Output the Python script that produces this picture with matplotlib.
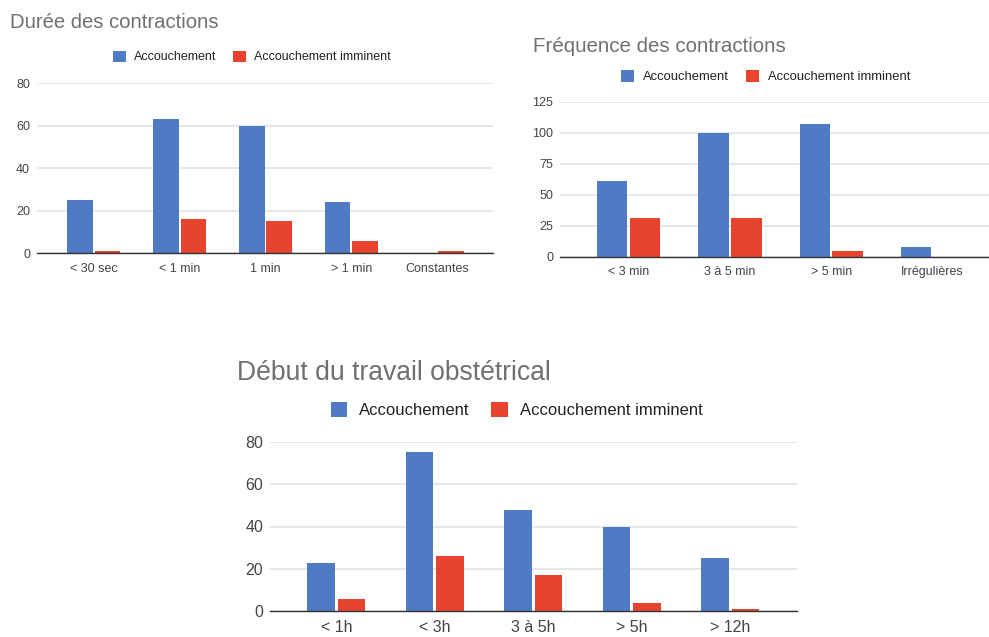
import matplotlib
matplotlib.use("Agg")
import matplotlib.pyplot as plt
from matplotlib.patches import Patch
import numpy as np

plt.rcParams['font.family'] = ['Liberation Sans', 'DejaVu Sans']

# ---- data ----
series_names = ["Accouchement", "Accouchement imminent"]

duree_cats = ["< 30 sec", "< 1 min", "1 min", "> 1 min", "Constantes"]
duree_acc = [25, 63, 60, 24, 0]
duree_imm = [1, 16, 15, 6, 1]
duree_ticks = [0, 20, 40, 60, 80]

freq_cats = ["< 3 min", "3 à 5 min", "> 5 min", "Irrégulières"]
freq_acc = [61, 100, 107, 8]
freq_imm = [31, 31, 5, 0]
freq_ticks = [0, 25, 50, 75, 100, 125]

debut_cats = ["< 1h", "< 3h", "3 à 5h", "> 5h", "> 12h"]
debut_acc = [23, 75, 48, 40, 25]
debut_imm = [6, 26, 17, 4, 1]
debut_ticks = [0, 20, 40, 60, 80]

BLUE = "#4f7bc4"
RED = "#e8432f"
GRID = "#e3e3e3"
TITLE_C = "#707070"
TICK_C = "#444444"

W, H = 989, 637
fig = plt.figure(figsize=(W / 100, H / 100), dpi=100)


def px_axes(x0, x1, y_top, y_bottom):
    return fig.add_axes([x0 / W, 1 - y_bottom / H, (x1 - x0) / W, (y_bottom - y_top) / H])


def bar_panel(ax, cats, acc, imm, ticks, xlim, tick_fs, xpad, bar_w=0.29, gap=0.02):
    x = np.arange(len(cats))
    off = bar_w / 2 + gap / 2
    ax.bar(x - off, acc, bar_w, color=BLUE, zorder=3)
    ax.bar(x + off, imm, bar_w, color=RED, zorder=3)
    ax.set_xlim(*xlim)
    ax.set_ylim(0, ticks[-1])
    ax.set_yticks(ticks)
    ax.set_yticklabels([str(t) for t in ticks])
    ax.set_xticks(x)
    ax.set_xticklabels(cats)
    ax.tick_params(axis='both', length=0, labelsize=tick_fs, colors=TICK_C)
    ax.tick_params(axis='y', pad=5)
    ax.tick_params(axis='x', pad=xpad)
    ax.grid(axis='y', color=GRID, linewidth=1.2, zorder=0)
    ax.set_axisbelow(True)
    for s in ("top", "left", "right"):
        ax.spines[s].set_visible(False)
    ax.spines["bottom"].set_color("#333333")
    ax.spines["bottom"].set_linewidth(1.0)
    ax.spines["bottom"].set_zorder(4)


def legend(ax, cx, cy, fs):
    handles = [Patch(facecolor=BLUE, edgecolor='none'), Patch(facecolor=RED, edgecolor='none')]
    ax.legend(handles, series_names, loc='center', bbox_to_anchor=(cx / W, 1 - cy / H),
              bbox_transform=fig.transFigure, ncol=2, frameon=False, fontsize=fs,
              handlelength=1.0, handleheight=1.0, handletextpad=0.7, columnspacing=1.3,
              borderpad=0, labelcolor="#222222")


# Durée des contractions
ax1 = px_axes(37, 493, 83.3, 253.3)
bar_panel(ax1, duree_cats, duree_acc, duree_imm, duree_ticks, (-0.663, 4.652), 9, 7,
          bar_w=0.30, gap=0.02)
fig.text(10 / W, 1 - 22 / H, "Durée des contractions", fontsize=14.6, color=TITLE_C,
         ha='left', va='center')
legend(ax1, 252, 57, 9)

# Fréquence des contractions
ax2 = px_axes(560, 989, 101.7, 256.7)
bar_panel(ax2, freq_cats, freq_acc, freq_imm, freq_ticks, (-0.678, 3.559), 9, 7,
          bar_w=0.30, gap=0.025)
fig.text(533 / W, 1 - 46 / H, "Fréquence des contractions", fontsize=14.8, color=TITLE_C,
         ha='left', va='center')
legend(ax2, 766, 76.7, 9.4)

# Début du travail obstétrical
ax3 = px_axes(270, 797, 441.7, 611.3)
bar_panel(ax3, debut_cats, debut_acc, debut_imm, debut_ticks, (-0.673, 4.678), 11.5, 6.5,
          bar_w=0.28, gap=0.03)
fig.text(237 / W, 1 - 373 / H, "Début du travail obstétrical", fontsize=19.1, color=TITLE_C,
         ha='left', va='center')
legend(ax3, 516.5, 410, 12)

fig.savefig("out.png", dpi=100, facecolor="white")
